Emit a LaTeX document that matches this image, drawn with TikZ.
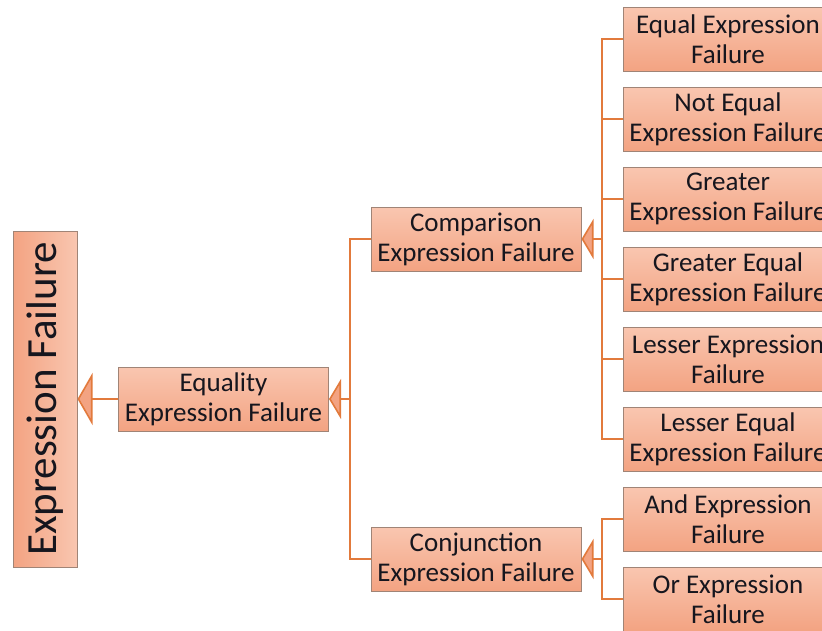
\documentclass[tikz,border=0pt]{standalone}
\usepackage{fontspec}
\setmainfont{Carlito}
\usepackage{tikz}
\usetikzlibrary{arrows.meta,positioning}

\definecolor{branch}{RGB}{226,122,60}
\definecolor{boxline}{RGB}{160,132,118}
\definecolor{boxtop}{RGB}{249,198,176}
\definecolor{boxbot}{RGB}{243,163,130}
\definecolor{ink}{RGB}{22,22,30}

\tikzset{
	fbox/.style={draw=boxline, line width=1pt, top color=boxtop, bottom color=boxbot,
		minimum width=210pt, minimum height=64pt, inner sep=0pt, align=center,
		text=ink, font=\fontsize{27}{30}\selectfont},
	branch/.style={draw=branch, line width=1.6pt},
	head/.style={-{Triangle[width=40pt,length=12pt,fill=boxbot]}},
	bighead/.style={-{Triangle[width=52pt,length=15pt,fill=boxbot]}}
}

\begin{document}
\begin{tikzpicture}[x=1pt,y=-1pt]
	\useasboundingbox (0,0) rectangle (822,630);
	% main levels
	\node[fbox, rotate=90, minimum width=336pt, left color=boxbot, right color=boxtop,
		font=\fontsize{43}{48}\selectfont] (root) at (45,399) {Expression Failure};
	\node[fbox] (eq) at (223.5,399) {Equality\\Expression Failure};
	\node[fbox] (cmp) at (476,239) {Comparison\\Expression Failure};
	\node[fbox] (conj) at (476,559) {Conjunction\\Expression Failure};
	% comparison leaves
	\node[fbox] (c1) at (728,39) {Equal Expression\\Failure};
	\node[fbox] (c2) at (728,119) {Not Equal\\Expression Failure};
	\node[fbox] (c3) at (728,199) {Greater\\Expression Failure};
	\node[fbox] (c4) at (728,279) {Greater Equal\\Expression Failure};
	\node[fbox] (c5) at (728,359) {Lesser Expression\\Failure};
	\node[fbox] (c6) at (728,439) {Lesser Equal\\Expression Failure};
	% conjunction leaves
	\node[fbox] (d1) at (728,519) {And Expression\\Failure};
	\node[fbox] (d2) at (728,599) {Or Expression\\Failure};
	% joints
	\coordinate (jeq) at (350,399);
	\coordinate (jcmp) at (602,239);
	\coordinate (jconj) at (602,559);
	% connectors
	\draw[branch,bighead] (eq.west) -- (root.south);
	\draw[branch] (cmp.west) -| (jeq) |- (conj.west);
	\draw[branch,head] (jeq) -- (eq.east);
	\draw[branch] (c1.west) -| (jcmp) |- (c6.west);
	\foreach \i in {2,...,5}
		\draw[branch] (c\i.west) -- (c\i.west -| jcmp);
	\draw[branch,head] (jcmp) -- (cmp.east);
	\draw[branch] (d1.west) -| (jconj) |- (d2.west);
	\draw[branch,head] (jconj) -- (conj.east);
\end{tikzpicture}
\end{document}
